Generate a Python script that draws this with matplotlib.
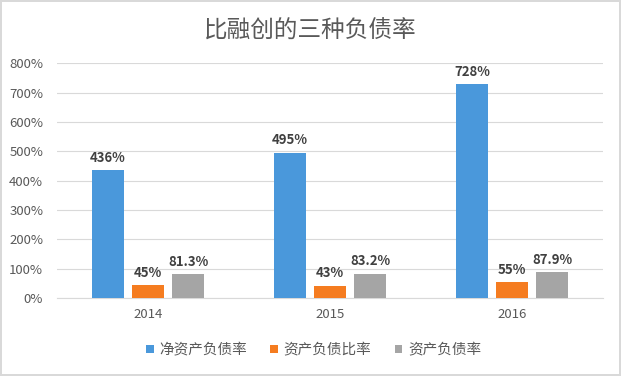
import matplotlib
matplotlib.use("Agg")
import matplotlib.pyplot as plt
import numpy as np

plt.rcParams['font.family'] = ['Noto Sans CJK SC', 'DejaVu Sans']

years = ['2014', '2015', '2016']
series_names = ['净资产负债率', '资产负债比率', '资产负债率']
net_asset_ratio = [436, 495, 728]
asset_liab_ratio2 = [45, 43, 55]
asset_liab_ratio = [81.3, 83.2, 87.9]
labels_net = ['436%', '495%', '728%']
labels_2 = ['45%', '43%', '55%']
labels_3 = ['81.3%', '83.2%', '87.9%']
yticks = [0, 100, 200, 300, 400, 500, 600, 700, 800]

colors = ['#4A98DB', '#F57C20', '#A5A5A5']

fig = plt.figure(figsize=(6.21, 3.76), dpi=100)
fig.patch.set_facecolor('white')
fig.patch.set_edgecolor('#D9D9D9')
fig.patch.set_linewidth(1.5)
ax = fig.add_axes([0.092, 0.207, 0.879, 0.625])

x = np.arange(len(years))
w = 0.176
off = 0.22
data = [net_asset_ratio, asset_liab_ratio2, asset_liab_ratio]
labs = [labels_net, labels_2, labels_3]
for i, (vals, lab, c, name) in enumerate(zip(data, labs, colors, series_names)):
    bars = ax.bar(x + (i - 1) * off, vals, w, color=c, label=name, zorder=3)
    for b, t in zip(bars, lab):
        ax.text(b.get_x() + b.get_width() / 2, b.get_height() + 18, t,
                ha='center', va='bottom', fontsize=9.5, fontweight='bold',
                color='#404040', zorder=4)

ax.set_xlim(-0.5, 2.5)
ax.set_ylim(0, 800)
ax.set_yticks(yticks)
ax.set_yticklabels([f'{v}%' for v in yticks])
ax.set_xticks(x)
ax.set_xticklabels(years)
ax.yaxis.grid(True, color='#D9D9D9', linewidth=0.8, zorder=0)
ax.set_axisbelow(True)
for s in ['top', 'right', 'left']:
    ax.spines[s].set_visible(False)
ax.spines['bottom'].set_color('#D9D9D9')
ax.tick_params(axis='both', length=0, labelsize=9.5, colors='#595959')
ax.tick_params(axis='y', pad=10)
ax.tick_params(axis='x', pad=7)

fig.text(0.50, 0.918, '比融创的三种负债率', ha='center', va='center',
         fontsize=17, fontweight='light', color='#595959')

leg = fig.legend(loc='center', bbox_to_anchor=(0.505, 0.068), ncol=3,
                 frameon=False, fontsize=10.5, handlelength=0.5, handleheight=0.5,
                 handletextpad=0.4, columnspacing=1.6)
for t in leg.get_texts():
    t.set_color('#595959')

fig.savefig('out.png', dpi=100, facecolor=fig.get_facecolor(), edgecolor=fig.get_edgecolor())
